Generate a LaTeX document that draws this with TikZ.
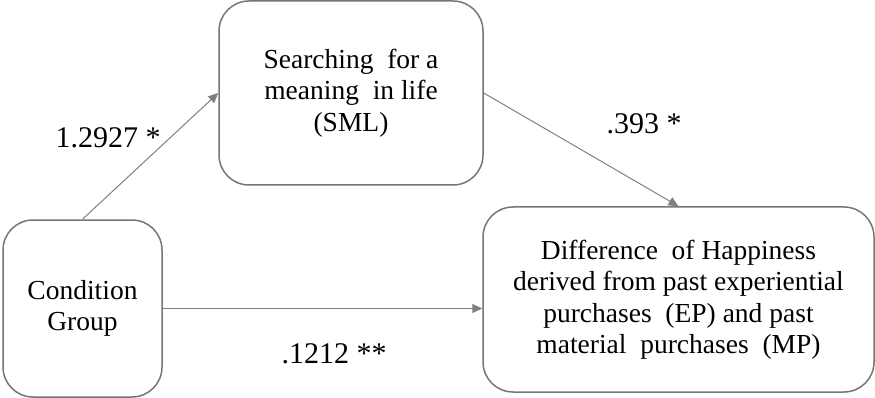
\documentclass[tikz,border=0pt]{standalone}
\usepackage{fontspec}
\setmainfont{Liberation Serif}
\usepackage{tikz}
\usetikzlibrary{arrows.meta,positioning}

\definecolor{boxgray}{RGB}{118,118,118}
\definecolor{arrowgray}{RGB}{128,128,128}

\tikzset{
	box/.style={draw=boxgray,line width=1.5pt,rounded corners=30pt,align=center,
		font=\fontsize{27.5}{31.5}\selectfont},
	path/.style={draw=arrowgray,line width=1pt,-{Triangle[length=10pt,width=9pt]}},
	coef/.style={font=\fontsize{30}{34}\selectfont}
}

\begin{document}
\begin{tikzpicture}[x=1pt,y=-1pt]
	\useasboundingbox (0,0) rectangle (875,398);

	\node[box,minimum width=264pt,minimum height=184pt] (sml) at (351,93) {Searching~ for a\\meaning~ in life\\(SML)};
	\node[box,minimum width=159pt,minimum height=177pt] (cond) at (82.5,308.5) {Condition\\Group};
	\node[box,minimum width=391pt,minimum height=185pt] (out) at (678.5,299.5) {Difference~ of Happiness\\derived from past experiential\\purchases~ (EP) and past\\material~ purchases~ (MP)};

	\draw[path] (cond.north) -- (sml.west);
	\draw[path] (sml.east) -- (out.north);
	\draw[path] (cond.east) -- (cond.east -| out.west);

	\node[coef] (a) at (108,138) {1.2927 *};
	\node[coef] (b) at (644,124) {.393 *};
	\node[coef] (c) at (334,354) {.1212 **};
\end{tikzpicture}
\end{document}
